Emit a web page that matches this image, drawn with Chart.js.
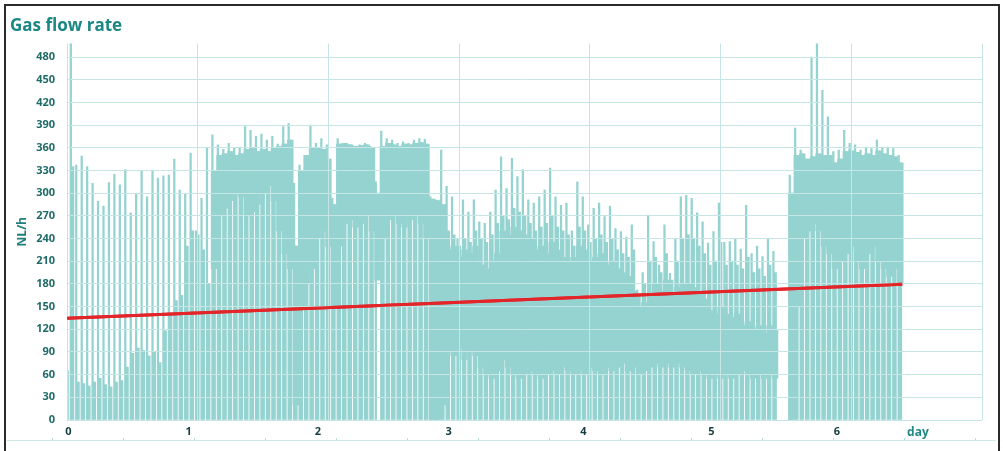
<!DOCTYPE html>
<html>
<head>
<meta charset="utf-8">
<title>Gas flow rate</title>
<script src="https://cdn.jsdelivr.net/npm/chart.js@4/dist/chart.umd.min.js"></script>
<style>
  html, body { margin: 0; padding: 0; background: #ffffff; }
  #wrap { position: relative; width: 1003px; height: 451px; overflow: hidden; background: #ffffff; }
  #c { position: absolute; left: 0; top: 0; }
  #frame { position: absolute; left: 4px; top: 4px; width: 992px; height: 470px;
           border: 2px solid #2a2a2a; border-bottom: none; pointer-events: none; }
  #rule { position: absolute; left: 7px; right: 7px; top: 440px; height: 1px; background: #cde8e7; }
  #rule::after { content: ""; position: absolute; left: 45px; right: 0; top: -2px; height: 2px;
                 background: repeating-linear-gradient(90deg, #b9dcdb 0 1px, transparent 1px 71px); }
</style>
</head>
<body>
<div id="wrap">
  <canvas id="c" width="1003" height="451"></canvas>
  <div id="frame"></div>
  <div id="rule"></div>
</div>
<script>
// Hourly samples of the gas flow (NL/h), one entry per hour starting at day 0.
// peakFlow: short start-up spike of each hour
// cycleFlow: level the flow returns to during the hour
// bandLow / bandHigh: range the flow keeps oscillating in during the hour
const HOURS_PER_DAY = 24;

const peakFlow = [
  70, 500, 337, 349, 335, 313, 289, 283, 314, 325, 311, 331, 274, 299, 330, 295, 330, 320, 323, 324,
  345, 304, 299, 353, 250, 293, 360, 377, 364, 358, 366, 360, 361, 388, 383, 375, 378, 370, 375, 365,
  388, 392, 313, 337, 345, 390, 366, 372, 364, 293, 372, 366, 364, 362, 364, 366, 362, 315, 382, 372,
  370, 366, 368, 366, 370, 372, 371, 295, 291, 357, 309, 295, 240, 291, 275, 291, 262, 260, 275, 304,
  348, 306, 346, 322, 331, 291, 287, 295, 304, 333, 295, 284, 287, 250, 315, 295, 258, 280, 287, 269,
  283, 253, 249, 242, 258, 172, 195, 271, 236, 205, 258, 194, 240, 295, 297, 293, 274, 262, 234, 249,
  287, 235, 236, 240, 226, 284, 220, 230, 216, 239, 223, null, null, 324, 386, 357, 335, 480, 500, 436,
  401, 355, 357, 383, 366, 364, 357, 361, 359, 370, 361, 361, 359, 350
];

const cycleFlow = [
  65, 335, 50, 48, 45, 50, 55, 47, 44, 50, 52, 70, 88, 95, 92, 85, 90, 76, 118, 140,
  158, 165, 230, 250, 245, 225, 180, 330, 350, 352, 355, 350, 352, 358, 360, 355, 358, 355, 360, 362,
  365, 370, 230, 330, 350, 360, 360, 358, 345, 285, 365, 366, 364, 362, 363, 364, 360, null, 362, 366,
  364, 362, 365, 364, 366, 367, 365, 292, 290, 285, 250, 245, 230, 240, 235, 250, 240, 235, 245, 260,
  270, 265, 280, 275, 270, 260, 250, 255, 260, 270, 255, 250, 245, 230, 255, 250, 235, 240, 245, 235,
  240, 225, 220, 215, 225, 165, 180, 210, 215, 195, 220, 185, 210, 240, 245, 240, 230, 220, 205, 210,
  235, 205, 210, 205, 200, 215, 195, 200, 190, 205, 195, null, null, 300, 350, 352, 345, 348, 352, 350,
  350, 340, 345, 355, 356, 354, 350, 352, 350, 356, 352, 350, 348, 340
];

const bandLow = [
  null, null, null, null, null, null, null, null, null, null, null, null, null, null, null, null, null, null, null, null,
  null, null, null, null, null, null, null, 200, 270, 280, 290, 300, 295, 270, 275, 285, 300, 310, 290, 250,
  220, 200, 20, 150, 180, 200, 240, 250, 230, 150, 230, 260, 265, 255, 260, 270, 250, 185, 240, 265,
  270, 260, 255, 265, 270, 260, 240, 0, 0, 20, 90, 85, 95, 80, 90, 85, 70, 60, 55, 65,
  80, 70, 60, 55, 60, 65, 60, 55, 60, 65, 60, 70, 65, 60, 65, 60, 70, 65, 60, 70,
  65, 70, 75, 65, 70, 60, 65, 70, 75, 70, 75, 70, 75, 70, 65, 60, 65, 60, 55, 60,
  55, 60, 55, 60, 65, 60, 55, 60, 55, 60, 55, null, null, 0, 150, 240, 250, 260, 250, 230,
  220, 200, 210, 220, 230, 210, 200, 220, 230, 210, 200, 190, 200, 180
];

const bandHigh = [
  null, null, null, null, null, null, null, null, null, null, null, null, null, null, null, null, null, null, null, null,
  null, null, null, null, null, null, null, 330, 350, 352, 355, 350, 352, 358, 360, 355, 358, 355, 360, 362,
  365, 370, 230, 330, 350, 360, 360, 358, 345, 285, 365, 366, 364, 362, 363, 364, 360, 300, 362, 366,
  364, 362, 365, 364, 366, 367, 365, 292, 290, 285, 225, 230, 215, 225, 220, 230, 205, 200, 210, 220,
  250, 245, 255, 250, 245, 240, 225, 230, 220, 235, 225, 215, 210, 215, 230, 225, 210, 215, 220, 205,
  210, 200, 195, 190, 170, 150, 155, 165, 180, 170, 185, 165, 175, 180, 180, 175, 170, 160, 145, 140,
  150, 140, 135, 140, 125, 130, 120, 125, 115, 125, 120, null, null, 300, 350, 352, 345, 348, 352, 350,
  350, 340, 345, 355, 356, 354, 350, 352, 350, 356, 352, 350, 348, 340
];

// Linear trend of the flow over the measuring period
const trendDays = [0, 6.39];
const trendFlow = [134.5, 179.5];

// Axis labels
const flowTicks = [0, 30, 60, 90, 120, 150, 180, 210, 240, 270, 300, 330, 360, 390, 420, 450, 480];
const dayTicks = ['0', '1', '2', '3', '4', '5', '6', 'day'];

const TEAL = '#95d3d0';
const GRID = '#c5e6e5';

const toPoints = (values, shift) => values
  .map((v, i) => (v == null ? null : { x: (i + shift) / HOURS_PER_DAY, y: [0, v] }))
  .filter(Boolean);

const columns = toPoints(cycleFlow, 0);
const spikes = toPoints(peakFlow, -0.3);
const bands = bandLow
  .map((lo, i) => (lo == null ? null : { x: i / HOURS_PER_DAY, y: [lo, bandHigh[i]] }))
  .filter(Boolean);
const trend = trendDays.map((d, i) => ({ x: d, y: trendFlow[i] }));

// Keeps the trend line above the gridlines, which are drawn over the bars.
const trendOnTop = {
  id: 'trendOnTop',
  afterDraw(chart) {
    const meta = chart.getDatasetMeta(3);
    const a = chart.chartArea;
    const ctx = chart.ctx;
    ctx.save();
    ctx.beginPath();
    ctx.rect(a.left, a.top, a.right - a.left, a.bottom - a.top);
    ctx.clip();
    meta.controller.draw();
    ctx.restore();
  }
};

// Places the day labels where they sit under each day column.
const dayLabelAt = [0.01, 0.93, 1.92, 2.92, 3.95, 4.93, 5.89, 6.51];

new Chart(document.getElementById('c'), {
  type: 'bar',
  data: {
    datasets: [
      { data: columns, backgroundColor: TEAL, barThickness: 3.0, grouped: false, borderWidth: 0, order: 3 },
      { data: bands, backgroundColor: TEAL, barThickness: 5.8, grouped: false, borderWidth: 0, order: 2 },
      { data: spikes, backgroundColor: TEAL, barThickness: 1.6, grouped: false, borderWidth: 0, order: 1 },
      { type: 'line', data: trend, borderColor: '#e3252a', borderWidth: 3, pointRadius: 0, order: 0 }
    ]
  },
  options: {
    responsive: false,
    animation: false,
    devicePixelRatio: 1,
    layout: { padding: { left: 10, right: 21, top: 0, bottom: 0 } },
    plugins: {
      legend: { display: false },
      tooltip: { enabled: false },
      title: {
        display: true,
        text: 'Gas flow rate',
        align: 'start',
        color: '#1b8784',
        font: { family: 'Open Sans', weight: 'bold', size: 17 },
        padding: { top: 16, bottom: 7 }
      }
    },
    scales: {
      x: {
        type: 'linear', position: 'bottom', min: 0, max: 7, offset: false,
        grid: { color: GRID, lineWidth: 1, drawTicks: false, offset: false, z: 1 },
        border: { display: false },
        ticks: { display: false, stepSize: 1 }
      },
      xl: {
        type: 'linear', position: 'bottom', min: 0, max: 7, offset: false,
        grid: { display: false, drawTicks: false, offset: false },
        border: { display: false },
        afterBuildTicks: (s) => { s.ticks = dayLabelAt.map((v) => ({ value: v })); },
        afterFit: (s) => { s.height = 31; },
        ticks: {
          autoSkip: false, maxRotation: 0, padding: 5,
          callback: (v, i) => dayTicks[i],
          color: (c) => (c.index === dayTicks.length - 1 ? '#1f8a86' : '#143f3e'),
          font: (c) => (c.index === dayTicks.length - 1
            ? { family: 'Open Sans', weight: 'bold', size: 12 }
            : { family: 'Open Sans', weight: 'bold', size: 11 })
        }
      },
      y: {
        type: 'linear', min: 0, max: 498,
        grid: { color: GRID, lineWidth: 1, drawTicks: false, z: 1 },
        border: { display: false },
        afterBuildTicks: (s) => { s.ticks = flowTicks.map((v) => ({ value: v })); },
        afterFit: (s) => { s.width = 57; },
        ticks: {
          padding: 12,
          color: '#1f6b68',
          font: { family: 'Open Sans', weight: 'bold', size: 11 },
          callback: (v) => String(v)
        },
        title: {
          display: true, text: 'NL/h', color: '#1f7f7c',
          font: { family: 'Open Sans', weight: 'bold', size: 12 },
          padding: { top: 5, bottom: 0 }
        }
      }
    }
  },
  plugins: [trendOnTop]
});
</script>
</body>
</html>
